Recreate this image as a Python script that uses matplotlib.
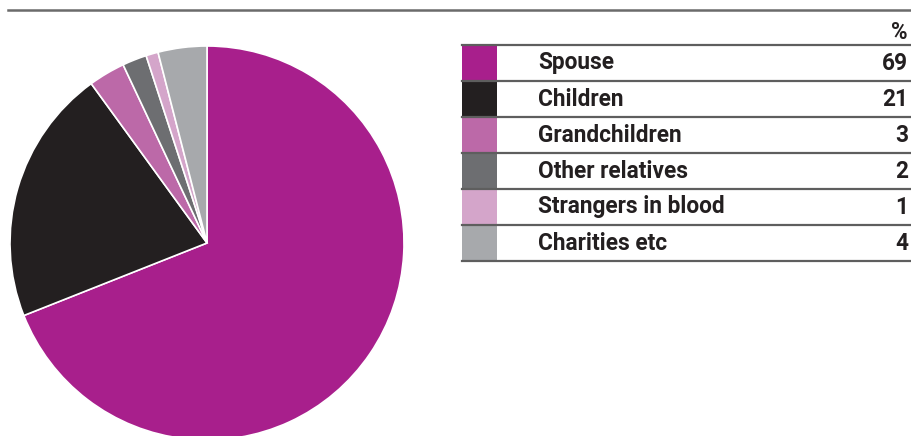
import matplotlib.pyplot as plt
from matplotlib.lines import Line2D

# data
labels = ['Spouse', 'Children', 'Grandchildren', 'Other relatives',
          'Strangers in blood', 'Charities etc']
shares = [69, 21, 3, 2, 1, 4]
colours = ['#a81f8c', '#231f20', '#bc69a8', '#6d6e71', '#d4a5ca', '#a7a9ac']

W, H = 912, 436
fig = plt.figure(figsize=(W / 100, H / 100), dpi=100)
plt.rcParams['font.family'] = ['Roboto', 'DejaVu Sans']

# rule across the top
fig.add_artist(Line2D([8 / W, 1], [1 - 10 / H, 1 - 10 / H], transform=fig.transFigure,
                      color='#6b6b6b', lw=1.8))

# pie
cx, cy, r = 207, 243, 197
ax = fig.add_axes([(cx - r) / W, (H - cy - r) / H, 2 * r / W, 2 * r / H])
ax.pie(shares, colors=colours, startangle=90, counterclock=False, radius=1,
       wedgeprops=dict(edgecolor='white', linewidth=1.2))
ax.set_xlim(-1, 1)
ax.set_ylim(-1, 1)
ax.set_aspect('equal')
ax.axis('off')

# table on the right
x0, x1 = 462, 910
top, bot = 45, 261
tx = fig.add_axes([x0 / W, (H - bot) / H, (x1 - x0) / W, (bot - top) / H])
tx.set_xlim(0, x1 - x0)
tx.set_ylim(len(labels), 0)
tx.axis('off')
n = len(labels)
tx.barh(range(n), [35] * n, left=0, height=1, align='edge', color=colours, lw=0)
for i in range(n + 1):
    tx.axhline(i, color='#5e5e5e', lw=1.6, clip_on=False)
fs = 16.3
for i, (lab, v) in enumerate(zip(labels, shares)):
    tx.text(76, i + 0.5, lab, fontsize=fs, fontweight='bold', color='#231f20',
            va='center', ha='left')
    tx.text(x1 - x0 - 2, i + 0.5, str(v), fontsize=fs, fontweight='bold',
            color='#231f20', va='center', ha='right')
tx.text(x1 - x0 - 2, -0.36, '%', fontsize=fs, fontweight='bold', color='#231f20',
        va='center', ha='right')

fig.savefig('out.png', dpi=100)
